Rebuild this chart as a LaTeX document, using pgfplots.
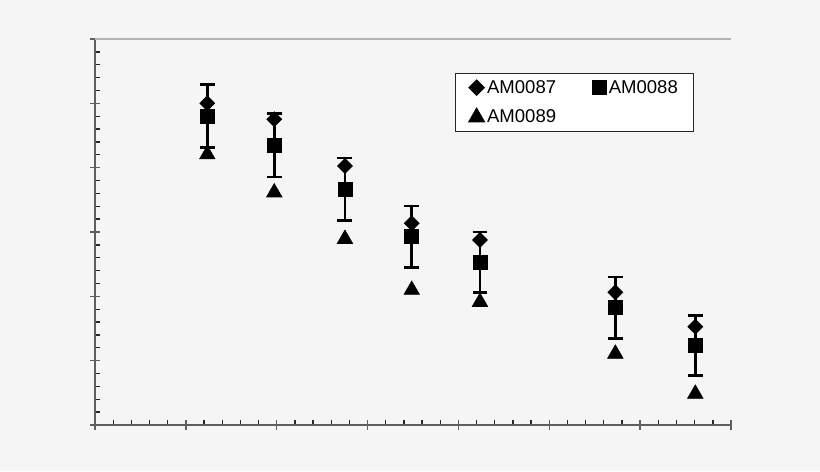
\documentclass[border=0pt]{standalone}
\usepackage{fontspec}
\setmainfont{Liberation Sans}
\usepackage{pgfplots}
\pgfplotsset{compat=1.18}

\definecolor{bg}{HTML}{F5F5F5}
\definecolor{axgray}{HTML}{5F5F5F}
\definecolor{topgray}{HTML}{B4B4B4}

\begin{document}
\begin{tikzpicture}
% page background, 820x471 px at 0.75pt/px
\fill[bg] (0,0) rectangle (615pt,353.25pt);
\begin{axis}[
  scale only axis,
  width=477pt, height=289.5pt,
  at={(71.25pt,34.5pt)}, anchor=south west,
  xmin=0, xmax=7, ymin=0, ymax=6,
  axis x line*=bottom, axis y line*=left,
  axis line style={-, color=axgray, line width=1.2pt},
  xtick={0,...,7}, ytick={0,...,6},
  minor x tick num=4, minor y tick num=4,
  xticklabels={}, yticklabels={},
  tick align=center,
  major tick length=7.5pt,
  minor tick length=3.75pt,
  minor x tick style={yshift=1.875pt},
  minor y tick style={xshift=1.875pt},
  tick style={color=axgray, line width=1pt},
  minor tick style={color=black!85, line width=1pt},
  clip=false,
  legend columns=2,
  legend cell align=left,
  legend style={at={(0.566,0.913)}, anchor=north west,
    draw=black!85, fill=white, line width=0.8pt,
    font=\fontsize{13.9}{16}\selectfont,
    inner xsep=10pt, inner ysep=3.3pt,
    row sep=7pt,
    /tikz/every even column/.append style={column sep=25pt}},
  legend image code/.code={\draw[#1] plot coordinates {(0pt,0pt)};},
]
\draw[topgray, line width=0.8pt] (rel axis cs:0,1) -- (rel axis cs:1,1);

\addplot[only marks, mark=square*, mark size=4pt, mark options={rotate=45}, black]
  coordinates {(1.236,5.001) (1.973,4.752) (2.751,4.026) (3.486,3.135)
               (4.237,2.876) (5.727,2.063) (6.607,1.528)};
\addlegendentry{AM0087}

\addplot[only marks, mark=square*, mark size=5.25pt, black,
  error bars/.cd, y dir=both, y explicit,
  error bar style={line width=2pt, black},
  error mark options={rotate=90, line width=2pt, mark size=5.6pt, black}]
  coordinates {(1.236,4.803) +- (0,0.494)
               (1.973,4.348) +- (0,0.494)
               (2.751,3.664) +- (0,0.485)
               (3.486,2.927) +- (0,0.479)
               (4.237,2.529) +- (0,0.469)
               (5.727,1.823) +- (0,0.479)
               (6.607,1.233) +- (0,0.466)};
\addlegendentry{AM0088}

\addplot[only marks, mark=triangle*, mark size=6.75pt, black]
  coordinates {(1.236,4.205) (1.973,3.614) (2.751,2.891) (3.486,2.099)
               (4.237,1.912) (5.727,1.107) (6.607,0.485)};
\addlegendentry{AM0089}
\end{axis}
\end{tikzpicture}
\end{document}
